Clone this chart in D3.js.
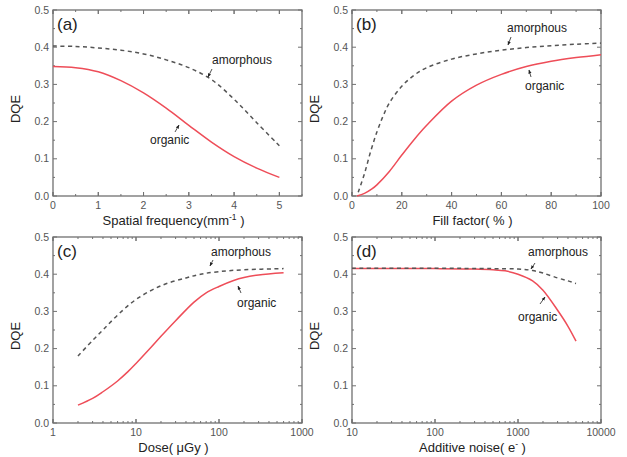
<!DOCTYPE html>
<html lang="en">
<head>
<meta charset="UTF-8">
<title>DQE</title>
<style>
  body { margin: 0; background: #fff; }
  svg { font-family: "Liberation Sans", Arial, sans-serif; }
  .frame { fill: none; stroke: #707070; stroke-width: 1.3; }
  .tick { stroke: #707070; stroke-width: 1; }
  .ticklabel { font-size: 10.5px; fill: #555; }
  .title { font-size: 13px; fill: #222; }
  .note { font-size: 12px; fill: #222; }
</style>
</head>
<body>
<div id="chart"></div>
<script src="https://d3js.org/d3.v7.min.js"></script>
<script>

// (a) DQE vs spatial frequency (mm^-1)
var freqX = [0, 0.5, 1, 1.5, 2, 2.5, 3, 3.5, 4, 4.5, 5];
var freqOrganic = [0.348, 0.345, 0.334, 0.31, 0.277, 0.236, 0.19, 0.145, 0.106, 0.075, 0.05];
var freqAmorphous = [0.403, 0.402, 0.398, 0.392, 0.382, 0.366, 0.345, 0.313, 0.26, 0.197, 0.135];

// (b) DQE vs fill factor (%)
var fillX = [2, 5, 8, 10, 15, 20, 25, 30, 40, 50, 60, 70, 80, 90, 100];
var fillOrganic = [0, 0.007, 0.019, 0.03, 0.066, 0.11, 0.152, 0.19, 0.255, 0.298, 0.327, 0.348, 0.362, 0.372, 0.38];
var fillAmorphousX = [2.5, 5, 7.5, 10, 12.5, 15, 20, 25, 30, 40, 50, 60, 70, 80, 90, 100];
var fillAmorphous = [0.01, 0.06, 0.12, 0.172, 0.215, 0.25, 0.295, 0.325, 0.345, 0.368, 0.382, 0.392, 0.399, 0.404, 0.408, 0.411];

// (c) DQE vs dose (uGy)
var doseX = [2, 3, 4, 6, 8, 10, 15, 20, 30, 50, 70, 100, 150, 200, 300, 600];
var doseOrganic = [0.048, 0.066, 0.084, 0.113, 0.138, 0.16, 0.202, 0.233, 0.275, 0.325, 0.35, 0.367, 0.383, 0.391, 0.398, 0.404];
var doseAmorphousX = [2, 3, 4, 6, 10, 20, 40, 60, 100, 200, 600];
var doseAmorphous = [0.18, 0.222, 0.25, 0.29, 0.332, 0.369, 0.39, 0.4, 0.407, 0.412, 0.415];

// (d) DQE vs additive noise (e-)
var noiseX = [10, 100, 300, 500, 700, 1000, 1500, 2000, 3000, 4000, 5000];
var noiseOrganic = [0.415, 0.415, 0.414, 0.412, 0.409, 0.4, 0.382, 0.357, 0.303, 0.26, 0.22];
var noiseAmorphousX = [10, 100, 500, 1000, 1500, 2000, 3000, 4000, 5000];
var noiseAmorphous = [0.416, 0.416, 0.415, 0.414, 0.41, 0.403, 0.39, 0.382, 0.375];

var yTicks = [0, 0.1, 0.2, 0.3, 0.4, 0.5];

var width = 627, height = 457;
var pw = 249, ph = 186;

var svg = d3.select("#chart").append("svg")
    .attr("width", width)
    .attr("height", height);

// little arrowhead for the annotations
svg.append("defs").append("marker")
    .attr("id", "arrow")
    .attr("viewBox", "0 0 10 10")
    .attr("refX", 9).attr("refY", 5)
    .attr("markerWidth", 5).attr("markerHeight", 5)
    .attr("orient", "auto")
    .append("path")
    .attr("d", "M0,1 L10,5 L0,9 z")
    .attr("fill", "#222");

function linMinor(lo, hi, step) {
    return d3.range(lo, hi + step / 2, step);
}
function logMinor(lo, hi) {
    var out = [];
    for (var d = lo; d < hi; d *= 10)
        for (var k = 1; k < 10; k++) out.push(d * k);
    out.push(hi);
    return out;
}

var panels = [
    {
        tag: "(a)", left: 53, top: 10,
        x: d3.scaleLinear().domain([0, 5.5]),
        xTicks: [0, 1, 2, 3, 4, 5], xMinor: linMinor(0, 5.5, 0.5),
        title: [["Spatial frequency(mm"], ["-1", true], [" )"]],
        organic: { x: freqX, y: freqOrganic },
        amorphous: { x: freqX, y: freqAmorphous },
        amorphText: [212, 64], amorphArrow: [[212, 69], [208, 77]],
        organText: [150, 144], organArrow: [[175, 132], [179, 125]]
    },
    {
        tag: "(b)", left: 352, top: 10,
        x: d3.scaleLinear().domain([0, 100]),
        xTicks: [0, 20, 40, 60, 80, 100], xMinor: linMinor(0, 100, 10),
        title: [["Fill factor( % )"]],
        organic: { x: fillX, y: fillOrganic },
        amorphous: { x: fillAmorphousX, y: fillAmorphous },
        amorphText: [507, 32], amorphArrow: [[511, 37], [508, 45]],
        organText: [525, 90], organArrow: [[531, 77], [529, 70]]
    },
    {
        tag: "(c)", left: 53, top: 237,
        x: d3.scaleLog().domain([1, 1000]),
        xTicks: [1, 10, 100, 1000], xMinor: logMinor(1, 1000),
        title: [["Dose( \u03BCGy )"]],
        organic: { x: doseX, y: doseOrganic },
        amorphous: { x: doseAmorphousX, y: doseAmorphous },
        amorphText: [211, 256], amorphArrow: [[213, 260], [210, 266]],
        organText: [237, 307], organArrow: [[241, 293], [238, 286]]
    },
    {
        tag: "(d)", left: 352, top: 237,
        x: d3.scaleLog().domain([10, 10000]),
        xTicks: [10, 100, 1000, 10000], xMinor: logMinor(10, 10000),
        title: [["Additive noise( e"], ["-", true], [" )"]],
        organic: { x: noiseX, y: noiseOrganic },
        amorphous: { x: noiseAmorphousX, y: noiseAmorphous },
        amorphText: [528, 256], amorphArrow: [[535, 263], [531, 269]],
        organText: [518, 321], organArrow: [[540, 304], [545, 297]]
    }
];

panels.forEach(function (p) {
    var x = p.x.range([p.left, p.left + pw]);
    var y = d3.scaleLinear().domain([0, 0.5]).range([p.top + ph, p.top]);
    var g = svg.append("g");
    var bottom = p.top + ph, right = p.left + pw;

    // ticks, inward on all four sides
    var major = 4, minor = 2;
    p.xMinor.forEach(function (v) {
        var len = p.xTicks.indexOf(v) >= 0 ? major : minor;
        g.append("line").attr("class", "tick")
            .attr("x1", x(v)).attr("x2", x(v)).attr("y1", bottom).attr("y2", bottom - len);
        g.append("line").attr("class", "tick")
            .attr("x1", x(v)).attr("x2", x(v)).attr("y1", p.top).attr("y2", p.top + len);
    });
    p.xTicks.forEach(function (v) {
        g.append("line").attr("class", "tick")
            .attr("x1", x(v)).attr("x2", x(v)).attr("y1", bottom).attr("y2", bottom - major);
        g.append("line").attr("class", "tick")
            .attr("x1", x(v)).attr("x2", x(v)).attr("y1", p.top).attr("y2", p.top + major);
    });
    linMinor(0, 0.5, 0.05).forEach(function (v, i) {
        var len = i % 2 === 0 ? major : minor;
        g.append("line").attr("class", "tick")
            .attr("x1", p.left).attr("x2", p.left + len).attr("y1", y(v)).attr("y2", y(v));
        g.append("line").attr("class", "tick")
            .attr("x1", right).attr("x2", right - len).attr("y1", y(v)).attr("y2", y(v));
    });

    g.append("rect").attr("class", "frame")
        .attr("x", p.left).attr("y", p.top).attr("width", pw).attr("height", ph);

    // tick labels
    g.selectAll(".xl").data(p.xTicks).enter().append("text")
        .attr("class", "ticklabel")
        .attr("x", function (d) { return x(d); })
        .attr("y", bottom + 13)
        .attr("text-anchor", "middle")
        .text(d3.format("d"));
    g.selectAll(".yl").data(yTicks).enter().append("text")
        .attr("class", "ticklabel")
        .attr("x", p.left - 4)
        .attr("y", function (d) { return y(d) + 3.5; })
        .attr("text-anchor", "end")
        .text(d3.format(".1f"));

    // axis titles
    var t = g.append("text").attr("class", "title")
        .attr("x", p.left + pw / 2 - 4)
        .attr("y", bottom + 29)
        .attr("text-anchor", "middle");
    p.title.forEach(function (s, i) {
        var sp = t.append("tspan").text(s[0]);
        if (s[1]) sp.attr("dy", -5).style("font-size", "8.5px");
        else if (i > 0) sp.attr("dy", 5);
    });
    g.append("text").attr("class", "title")
        .attr("transform", "translate(" + (p.left - 33) + "," + (p.top + 99) + ") rotate(-90)")
        .attr("text-anchor", "middle")
        .text("DQE");

    // curves
    var line = d3.line().curve(d3.curveCatmullRom.alpha(0.5));
    var org = p.organic.x.map(function (v, i) { return [x(v), y(p.organic.y[i])]; });
    var amo = p.amorphous.x.map(function (v, i) { return [x(v), y(p.amorphous.y[i])]; });
    g.append("path").attr("d", line(org))
        .attr("fill", "none").attr("stroke", "#ee4d58").attr("stroke-width", 1.5);
    g.append("path").attr("d", line(amo))
        .attr("fill", "none").attr("stroke", "#555").attr("stroke-width", 1.5)
        .attr("stroke-dasharray", "4,3.5");

    // panel tag and annotations
    g.append("text").attr("x", p.left + 4).attr("y", p.top + 20)
        .style("font-size", "17px").attr("fill", "#222").text(p.tag);
    g.append("text").attr("class", "note")
        .attr("x", p.amorphText[0]).attr("y", p.amorphText[1]).text("amorphous");
    g.append("text").attr("class", "note")
        .attr("x", p.organText[0]).attr("y", p.organText[1]).text("organic");
    [p.amorphArrow, p.organArrow].forEach(function (a) {
        g.append("line")
            .attr("x1", a[0][0]).attr("y1", a[0][1])
            .attr("x2", a[1][0]).attr("y2", a[1][1])
            .attr("stroke", "#222").attr("stroke-width", 0.8)
            .attr("marker-end", "url(#arrow)");
    });
});

</script>
</body>
</html>
